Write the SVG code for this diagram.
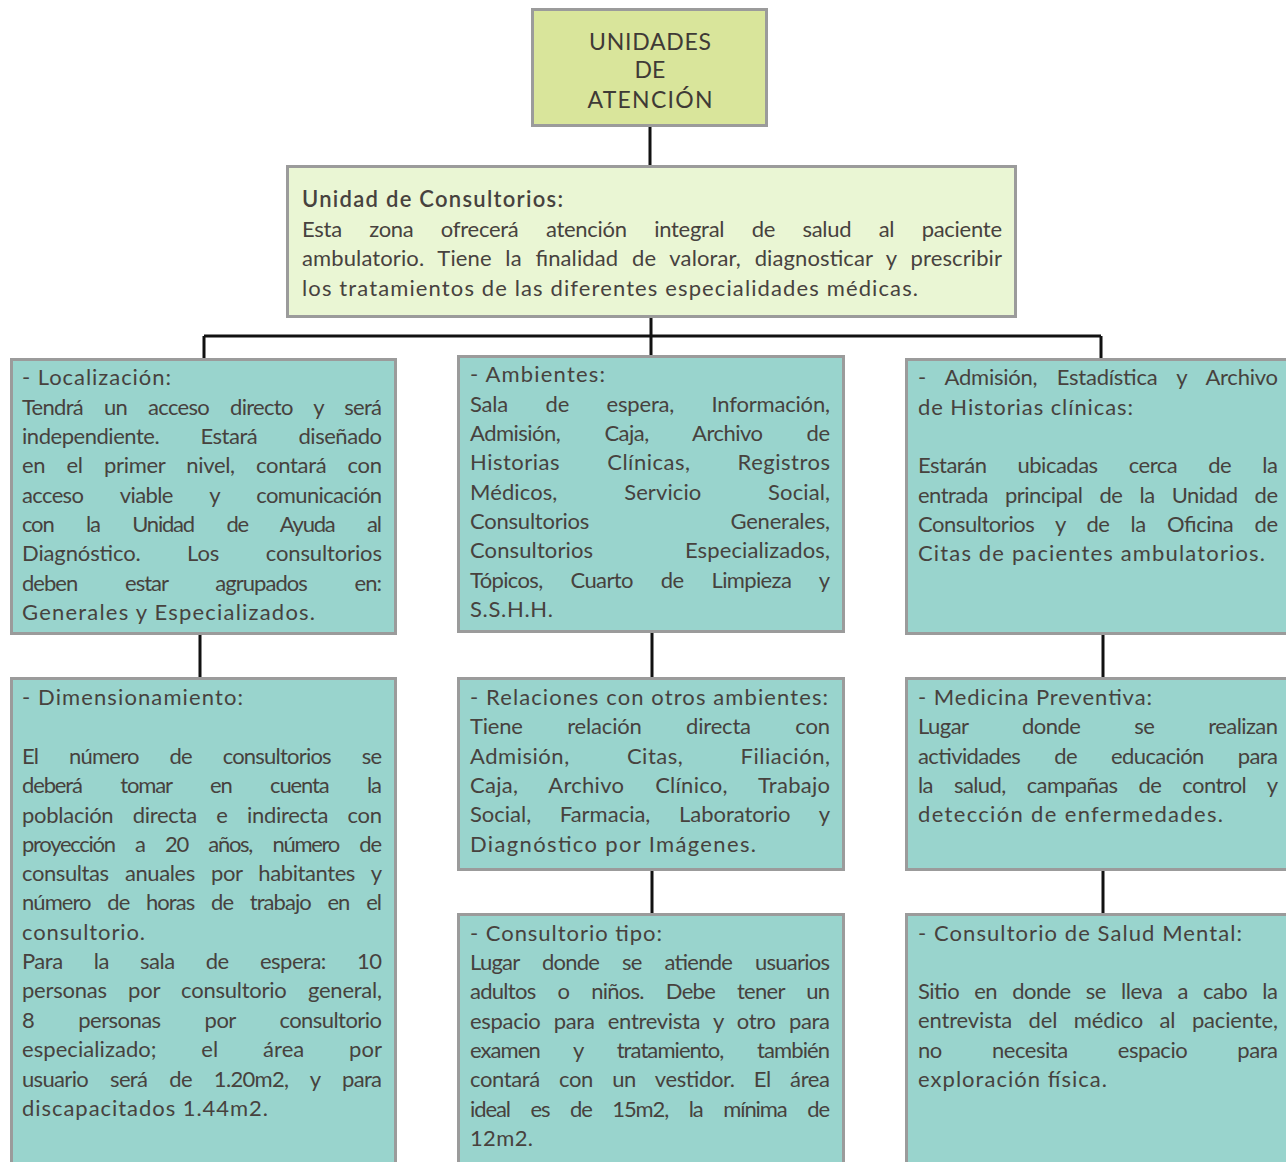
<svg xmlns="http://www.w3.org/2000/svg" width="1286" height="1162" viewBox="0 0 1286 1162">
<style>
.box{stroke:#9b9b9b;stroke-width:3}
.top{fill:#d9e59b}
.main{fill:#eaf6d4}
.teal{fill:#99d4cd}
.t{font-family:Lato,"Open Sans","Liberation Sans",sans-serif;font-size:22px;fill:#47423e}
.h{font-family:Lato,"Open Sans","Liberation Sans",sans-serif;font-size:23px;fill:#3f3a36}
.b{font-weight:600}
.con{stroke:#111;stroke-width:3;fill:none}
</style>
<rect width="1286" height="1162" fill="#ffffff"/>
<g id="connectors">
<path class="con" d="M650 127V165M651 318V336M204 336H1101M204 336V358M651 336V355M1101 336V358M200 635V677M652 633V677M1103 635V677M652 871V913M1103 871V913"/>
</g>
<g id="n-unidades">
<rect class="box top" x="532.5" y="9.5" width="234" height="116"/>
<text class="h" x="650" y="50" text-anchor="middle" textLength="122" lengthAdjust="spacing">UNIDADES</text>
<text class="h" x="650" y="78" text-anchor="middle">DE</text>
<text class="h" x="650" y="108" text-anchor="middle" textLength="125" lengthAdjust="spacing">ATENCIÓN</text>
</g>
<g id="n-consultorios">
<rect class="box main" x="287.5" y="166.5" width="728" height="150"/>
<text class="t b" x="302" y="207" textLength="261" lengthAdjust="spacing">Unidad de Consultorios:</text>
<text class="t" x="302" y="237" textLength="700" lengthAdjust="spacing" style="word-spacing:22px">Esta zona ofrecerá atención integral de salud al paciente</text>
<text class="t" x="302" y="266" textLength="700" lengthAdjust="spacing" style="word-spacing:8px">ambulatorio. Tiene la finalidad de valorar, diagnosticar y prescribir</text>
<text class="t" x="302" y="296" textLength="616" lengthAdjust="spacing">los tratamientos de las diferentes especialidades médicas.</text>
</g>
<g id="n-localizacion">
<rect class="box teal" x="11.5" y="359.5" width="384" height="274"/>
<text class="t" x="22" y="385" textLength="149" lengthAdjust="spacing">- Localización:</text>
<text class="t" x="22" y="415" textLength="360" lengthAdjust="spacing" style="word-spacing:16px">Tendrá un acceso directo y será</text>
<text class="t" x="22" y="444" textLength="360" lengthAdjust="spacing" style="word-spacing:36px">independiente. Estará diseñado</text>
<text class="t" x="22" y="473" textLength="360" lengthAdjust="spacing" style="word-spacing:16px">en el primer nivel, contará con</text>
<text class="t" x="22" y="503" textLength="360" lengthAdjust="spacing" style="word-spacing:32px">acceso viable y comunicación</text>
<text class="t" x="22" y="532" textLength="360" lengthAdjust="spacing" style="word-spacing:28px">con la Unidad de Ayuda al</text>
<text class="t" x="22" y="561" textLength="360" lengthAdjust="spacing" style="word-spacing:41px">Diagnóstico. Los consultorios</text>
<text class="t" x="22" y="591" textLength="360" lengthAdjust="spacing" style="word-spacing:43px">deben estar agrupados en:</text>
<text class="t" x="22" y="620" textLength="293" lengthAdjust="spacing">Generales y Especializados.</text>
</g>
<g id="n-ambientes">
<rect class="box teal" x="458.5" y="356.5" width="385" height="275"/>
<text class="t" x="470" y="382" textLength="135" lengthAdjust="spacing">- Ambientes:</text>
<text class="t" x="470" y="412" textLength="360" lengthAdjust="spacing" style="word-spacing:32px">Sala de espera, Información,</text>
<text class="t" x="470" y="441" textLength="360" lengthAdjust="spacing" style="word-spacing:39px">Admisión, Caja, Archivo de</text>
<text class="t" x="470" y="470" textLength="360" lengthAdjust="spacing" style="word-spacing:41px">Historias Clínicas, Registros</text>
<text class="t" x="470" y="500" textLength="360" lengthAdjust="spacing" style="word-spacing:61px">Médicos, Servicio Social,</text>
<text class="t" x="470" y="529" textLength="360" lengthAdjust="spacing" style="word-spacing:136px">Consultorios Generales,</text>
<text class="t" x="470" y="558" textLength="360" lengthAdjust="spacing" style="word-spacing:86px">Consultorios Especializados,</text>
<text class="t" x="470" y="588" textLength="360" lengthAdjust="spacing" style="word-spacing:23px">Tópicos, Cuarto de Limpieza y</text>
<text class="t" x="470" y="617" textLength="83" lengthAdjust="spacing">S.S.H.H.</text>
</g>
<g id="n-admision">
<rect class="box teal" x="906.5" y="359.5" width="400" height="274"/>
<text class="t" x="918" y="385" textLength="360" lengthAdjust="spacing" style="word-spacing:14px">- Admisión, Estadística y Archivo</text>
<text class="t" x="918" y="415" textLength="215" lengthAdjust="spacing">de Historias clínicas:</text>
<text class="t" x="918" y="473" textLength="360" lengthAdjust="spacing" style="word-spacing:26px">Estarán ubicadas cerca de la</text>
<text class="t" x="918" y="503" textLength="360" lengthAdjust="spacing" style="word-spacing:12px">entrada principal de la Unidad de</text>
<text class="t" x="918" y="532" textLength="360" lengthAdjust="spacing" style="word-spacing:16px">Consultorios y de la Oficina de</text>
<text class="t" x="918" y="561" textLength="347" lengthAdjust="spacing">Citas de pacientes ambulatorios.</text>
</g>
<g id="n-dimensionamiento">
<rect class="box teal" x="11.5" y="678.5" width="384" height="500"/>
<text class="t" x="22" y="705" textLength="221" lengthAdjust="spacing">- Dimensionamiento:</text>
<text class="t" x="22" y="764" textLength="360" lengthAdjust="spacing" style="word-spacing:26px">El número de consultorios se</text>
<text class="t" x="22" y="793" textLength="360" lengthAdjust="spacing" style="word-spacing:34px">deberá tomar en cuenta la</text>
<text class="t" x="22" y="823" textLength="360" lengthAdjust="spacing" style="word-spacing:14px">población directa e indirecta con</text>
<text class="t" x="22" y="852" textLength="360" lengthAdjust="spacing" style="word-spacing:16px">proyección a 20 años, número de</text>
<text class="t" x="22" y="881" textLength="360" lengthAdjust="spacing" style="word-spacing:11px">consultas anuales por habitantes y</text>
<text class="t" x="22" y="910" textLength="360" lengthAdjust="spacing" style="word-spacing:12px">número de horas de trabajo en el</text>
<text class="t" x="22" y="940" textLength="123" lengthAdjust="spacing">consultorio.</text>
<text class="t" x="22" y="969" textLength="360" lengthAdjust="spacing" style="word-spacing:26px">Para la sala de espera: 10</text>
<text class="t" x="22" y="998" textLength="360" lengthAdjust="spacing" style="word-spacing:16px">personas por consultorio general,</text>
<text class="t" x="22" y="1028" textLength="360" lengthAdjust="spacing" style="word-spacing:39px">8 personas por consultorio</text>
<text class="t" x="22" y="1057" textLength="360" lengthAdjust="spacing" style="word-spacing:39px">especializado; el área por</text>
<text class="t" x="22" y="1087" textLength="360" lengthAdjust="spacing" style="word-spacing:17px">usuario será de 1.20m2, y para</text>
<text class="t" x="22" y="1116" textLength="246" lengthAdjust="spacing">discapacitados 1.44m2.</text>
</g>
<g id="n-relaciones">
<rect class="box teal" x="458.5" y="678.5" width="385" height="191"/>
<text class="t" x="470" y="705" textLength="358" lengthAdjust="spacing">- Relaciones con otros ambientes:</text>
<text class="t" x="470" y="734" textLength="360" lengthAdjust="spacing" style="word-spacing:39px">Tiene relación directa con</text>
<text class="t" x="470" y="764" textLength="360" lengthAdjust="spacing" style="word-spacing:51px">Admisión, Citas, Filiación,</text>
<text class="t" x="470" y="793" textLength="360" lengthAdjust="spacing" style="word-spacing:25px">Caja, Archivo Clínico, Trabajo</text>
<text class="t" x="470" y="822" textLength="360" lengthAdjust="spacing" style="word-spacing:23px">Social, Farmacia, Laboratorio y</text>
<text class="t" x="470" y="852" textLength="286" lengthAdjust="spacing">Diagnóstico por Imágenes.</text>
</g>
<g id="n-medicina">
<rect class="box teal" x="906.5" y="678.5" width="400" height="191"/>
<text class="t" x="918" y="705" textLength="234" lengthAdjust="spacing">- Medicina Preventiva:</text>
<text class="t" x="918" y="734" textLength="360" lengthAdjust="spacing" style="word-spacing:49px">Lugar donde se realizan</text>
<text class="t" x="918" y="764" textLength="360" lengthAdjust="spacing" style="word-spacing:29px">actividades de educación para</text>
<text class="t" x="918" y="793" textLength="360" lengthAdjust="spacing" style="word-spacing:16px">la salud, campañas de control y</text>
<text class="t" x="918" y="822" textLength="305" lengthAdjust="spacing">detección de enfermedades.</text>
</g>
<g id="n-tipo">
<rect class="box teal" x="458.5" y="914.5" width="385" height="260"/>
<text class="t" x="470" y="941" textLength="192" lengthAdjust="spacing">- Consultorio tipo:</text>
<text class="t" x="470" y="970" textLength="360" lengthAdjust="spacing" style="word-spacing:18px">Lugar donde se atiende usuarios</text>
<text class="t" x="470" y="999" textLength="360" lengthAdjust="spacing" style="word-spacing:17px">adultos o niños. Debe tener un</text>
<text class="t" x="470" y="1029" textLength="360" lengthAdjust="spacing" style="word-spacing:8px">espacio para entrevista y otro para</text>
<text class="t" x="470" y="1058" textLength="360" lengthAdjust="spacing" style="word-spacing:29px">examen y tratamiento, también</text>
<text class="t" x="470" y="1087" textLength="360" lengthAdjust="spacing" style="word-spacing:14px">contará con un vestidor. El área</text>
<text class="t" x="470" y="1117" textLength="360" lengthAdjust="spacing" style="word-spacing:16px">ideal es de 15m2, la mínima de</text>
<text class="t" x="470" y="1146" textLength="63" lengthAdjust="spacing">12m2.</text>
</g>
<g id="n-mental">
<rect class="box teal" x="906.5" y="914.5" width="400" height="260"/>
<text class="t" x="918" y="941" textLength="324" lengthAdjust="spacing">- Consultorio de Salud Mental:</text>
<text class="t" x="918" y="999" textLength="360" lengthAdjust="spacing" style="word-spacing:10px">Sitio en donde se lleva a cabo la</text>
<text class="t" x="918" y="1028" textLength="360" lengthAdjust="spacing" style="word-spacing:11px">entrevista del médico al paciente,</text>
<text class="t" x="918" y="1058" textLength="360" lengthAdjust="spacing" style="word-spacing:45px">no necesita espacio para</text>
<text class="t" x="918" y="1087" textLength="189" lengthAdjust="spacing">exploración física.</text>
</g>
</svg>
